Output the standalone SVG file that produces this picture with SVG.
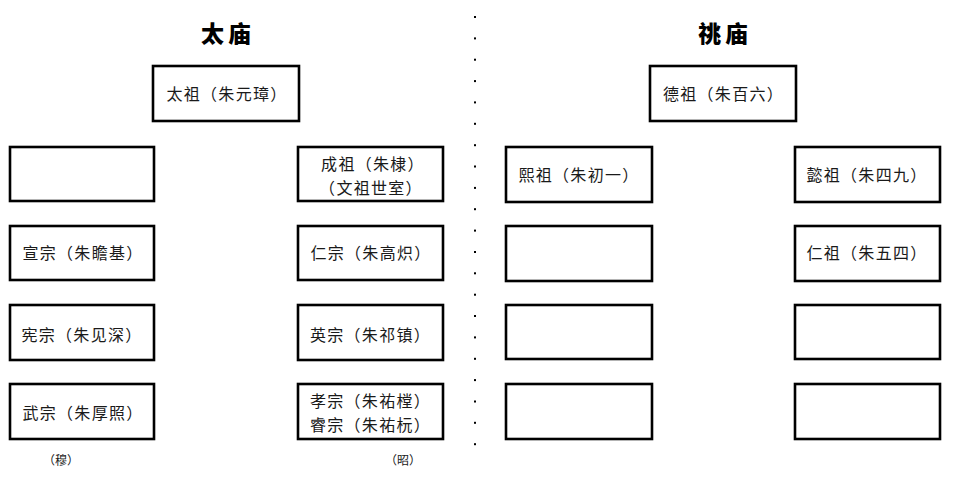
<svg xmlns="http://www.w3.org/2000/svg" width="960" height="483" viewBox="0 0 960 483">
<style>
.box{fill:#fff;stroke:#000;stroke-width:2.6}
.t{font-family:"Noto Sans CJK SC","Noto Sans CJK JP",sans-serif;font-size:16px;letter-spacing:1.3px;fill:#1a1a1a;text-anchor:middle}
.h{font-family:"Noto Sans CJK SC","Noto Sans CJK JP",sans-serif;font-size:23px;font-weight:900;letter-spacing:4px;fill:#000;text-anchor:middle}
.s{font-family:"Noto Sans CJK SC","Noto Sans CJK JP",sans-serif;font-size:12px;fill:#1a1a1a;text-anchor:middle}
.dot{fill:#000}
</style>
<rect width="960" height="483" fill="#fff"/>
<text class="h" x="228" y="42">太庙</text>
<text class="h" x="725" y="42">祧庙</text>
<g id="divider">
<rect class="dot" x="474" y="16" width="2" height="2"/>
<rect class="dot" x="474" y="37.4" width="2" height="2"/>
<rect class="dot" x="474" y="58.7" width="2" height="2"/>
<rect class="dot" x="474" y="80.1" width="2" height="2"/>
<rect class="dot" x="474" y="101.4" width="2" height="2"/>
<rect class="dot" x="474" y="122.8" width="2" height="2"/>
<rect class="dot" x="474" y="144.2" width="2" height="2"/>
<rect class="dot" x="474" y="165.5" width="2" height="2"/>
<rect class="dot" x="474" y="186.9" width="2" height="2"/>
<rect class="dot" x="474" y="208.2" width="2" height="2"/>
<rect class="dot" x="474" y="229.6" width="2" height="2"/>
<rect class="dot" x="474" y="251" width="2" height="2"/>
<rect class="dot" x="474" y="272.3" width="2" height="2"/>
<rect class="dot" x="474" y="293.7" width="2" height="2"/>
<rect class="dot" x="474" y="315" width="2" height="2"/>
<rect class="dot" x="474" y="336.4" width="2" height="2"/>
<rect class="dot" x="474" y="357.8" width="2" height="2"/>
<rect class="dot" x="474" y="379.1" width="2" height="2"/>
<rect class="dot" x="474" y="400.5" width="2" height="2"/>
<rect class="dot" x="474" y="421.8" width="2" height="2"/>
<rect class="dot" x="474" y="443.2" width="2" height="2"/>
</g>
<g id="connectors"></g>
<g id="taizu"><rect class="box" x="153" y="66" width="146" height="55"/><text class="t" x="227" y="99.5">太祖（朱元璋）</text></g>
<g id="left-empty"><rect class="box" x="10" y="147" width="144" height="54"/></g>
<g id="xuanzong"><rect class="box" x="10" y="226" width="144" height="54"/><text class="t" x="83" y="259">宣宗（朱瞻基）</text></g>
<g id="xianzong"><rect class="box" x="10" y="305" width="144" height="55"/><text class="t" x="82" y="341">宪宗（朱见深）</text></g>
<g id="wuzong"><rect class="box" x="10" y="384" width="144" height="55"/><text class="t" x="83" y="419">武宗（朱厚照）</text></g>
<g id="chengzu"><rect class="box" x="298" y="147" width="145" height="54"/><text class="t" x="373" y="170">成祖（朱棣）</text><text class="t" x="371" y="193.5">（文祖世室）</text></g>
<g id="renzong"><rect class="box" x="298" y="226" width="145" height="54"/><text class="t" x="371" y="259">仁宗（朱高炽）</text></g>
<g id="yingzong"><rect class="box" x="298" y="305" width="145" height="55"/><text class="t" x="370.5" y="341">英宗（朱祁镇）</text></g>
<g id="xiaozong"><rect class="box" x="298" y="384" width="145" height="55"/><text class="t" x="370.5" y="407">孝宗（朱祐樘）</text><text class="t" x="370.5" y="431">睿宗（朱祐杬）</text></g>
<text class="s" x="61" y="464.5">（穆）</text>
<text class="s" x="403" y="464.5">（昭）</text>
<g id="dezu"><rect class="box" x="650" y="66" width="146" height="55"/><text class="t" x="723.5" y="99.5">德祖（朱百六）</text></g>
<g id="xizu"><rect class="box" x="506" y="147" width="146" height="55"/><text class="t" x="579" y="181">熙祖（朱初一）</text></g>
<g id="yizu"><rect class="box" x="795" y="147" width="145" height="55"/><text class="t" x="867" y="181">懿祖（朱四九）</text></g>
<g id="right-empty-1"><rect class="box" x="506" y="226" width="146" height="55"/></g>
<g id="renzu"><rect class="box" x="795" y="226" width="145" height="55"/><text class="t" x="867" y="259">仁祖（朱五四）</text></g>
<g id="right-empty-2"><rect class="box" x="506" y="305" width="146" height="54"/></g>
<g id="right-empty-3"><rect class="box" x="795" y="305" width="145" height="54"/></g>
<g id="right-empty-4"><rect class="box" x="506" y="384" width="146" height="55"/></g>
<g id="right-empty-5"><rect class="box" x="795" y="384" width="145" height="55"/></g>
</svg>
